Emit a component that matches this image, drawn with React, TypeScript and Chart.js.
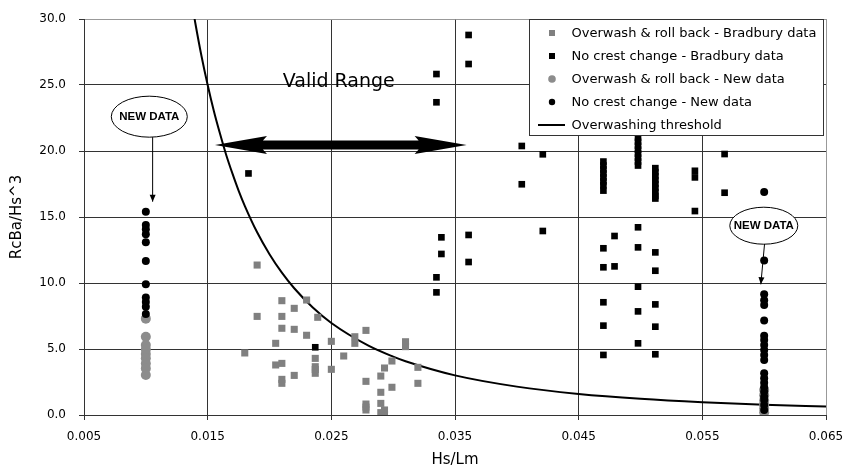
import React, { useEffect, useRef } from "react";
import { Chart, registerables } from "chart.js";

Chart.register(...registerables);

// ---- Axis ticks ----
const xTickValues = [0.005, 0.015, 0.025, 0.035, 0.045, 0.055, 0.065];
const yTickValues = [0, 5, 10, 15, 20, 25, 30];

// ---- Overwash & roll back - Bradbury data (grey squares) ----
const owBradburyX = [
  0.019, 0.021, 0.023, 0.022, 0.019, 0.021, 0.0239, 0.021, 0.022, 0.023, 0.0205, 0.025, 0.0269, 0.0269,
  0.0278, 0.031, 0.031, 0.018, 0.0237, 0.026, 0.0205, 0.021, 0.0237, 0.0237, 0.0237, 0.025, 0.022, 0.021,
  0.021, 0.0278, 0.029, 0.0293, 0.0299, 0.032, 0.032, 0.0299, 0.029, 0.0278, 0.0278, 0.0278, 0.029, 0.029,
  0.0293, 0.0293,
];
const owBradburyY = [
  11.36, 8.66, 8.71, 8.08, 7.47, 7.47, 7.4, 6.57, 6.49, 6.04, 5.43, 5.58, 5.93, 5.43,
  6.41, 5.55, 5.18, 4.7, 4.29, 4.47, 3.79, 3.91, 3.66, 3.45, 3.16, 3.46, 3.0, 2.7,
  2.4, 2.55, 2.95, 3.56, 4.09, 3.61, 2.4, 2.1, 1.72, 0.83, 0.6, 0.38, 0.88, 0.18,
  0.38, 0.05,
];

// ---- No crest change - Bradbury data (black squares) ----
const ncBradburyX = [
  0.0183, 0.0237, 0.0335, 0.0335, 0.0361, 0.0361, 0.0339, 0.0339, 0.0335, 0.0335, 0.0361, 0.0361,
  0.0404, 0.0421, 0.0404, 0.0421,
  0.047, 0.047, 0.047, 0.047, 0.047, 0.047, 0.047, 0.047,
  0.0498, 0.0498, 0.0498, 0.0498, 0.0498, 0.0498, 0.0498, 0.0498,
  0.0512, 0.0512, 0.0512, 0.0512, 0.0512, 0.0512, 0.0512, 0.0512, 0.0512,
  0.0544, 0.0544, 0.0544, 0.0568, 0.0568,
  0.0479, 0.0498, 0.047, 0.0498, 0.0512, 0.047, 0.0479, 0.0512, 0.0498, 0.047, 0.0512, 0.0498,
  0.047, 0.0512, 0.0498, 0.047, 0.0512,
];
const ncBradburyY = [
  18.3, 5.13, 25.83, 23.69, 28.79, 26.59, 13.46, 12.2, 10.43, 9.29, 13.64, 11.59,
  20.38, 19.75, 17.48, 13.94,
  19.2, 18.9, 18.6, 18.3, 18.0, 17.7, 17.4, 17.0,
  21.0, 20.7, 20.4, 20.1, 19.8, 19.5, 19.2, 18.9,
  18.7, 18.4, 18.1, 17.8, 17.5, 17.2, 16.9, 16.6, 16.4,
  18.5, 18.0, 15.45, 19.77, 16.84,
  13.56, 14.22, 12.63, 12.7, 12.32, 11.19, 11.26, 10.93, 9.72, 8.54, 8.38, 7.85,
  6.77, 6.69, 5.43, 4.55, 4.6,
];

// ---- Overwash & roll back - New data (grey circles) ----
const owNewX = [0.01, 0.01, 0.01, 0.01, 0.01, 0.01, 0.01, 0.01, 0.01, 0.06, 0.06, 0.06, 0.06, 0.06, 0.06];
const owNewY = [7.3, 5.93, 5.3, 4.97, 4.62, 4.29, 3.9, 3.53, 3.03, 1.9, 1.5, 1.1, 0.8, 0.5, 0.2];

// ---- No crest change - New data (black circles) ----
const ncNewX = [
  0.01, 0.01, 0.01, 0.01, 0.01, 0.01, 0.01, 0.01, 0.01, 0.01, 0.01,
  0.06, 0.06, 0.06, 0.06, 0.06, 0.06, 0.06, 0.06, 0.06, 0.06, 0.06, 0.06, 0.06, 0.06, 0.06, 0.06,
  0.06, 0.06, 0.06, 0.06, 0.06,
];
const ncNewY = [
  15.4, 14.4, 14.07, 13.7, 13.08, 11.67, 9.9, 8.9, 8.56, 8.2, 7.65,
  16.9, 11.7, 9.14, 8.7, 8.33, 7.15, 6.0, 5.68, 5.3, 4.92, 4.55, 4.17, 3.16, 2.78,
  2.45, 2.1, 1.77, 1.39, 1.14, 0.76, 0.38,
];

// ---- Overwashing threshold ----
const thresholdX = [
  0.0138, 0.014, 0.0145, 0.015, 0.0155, 0.016, 0.0165, 0.017, 0.0175, 0.018, 0.019, 0.02, 0.021, 0.022,
  0.0235, 0.025, 0.028, 0.03, 0.031, 0.035, 0.04, 0.045, 0.05, 0.055, 0.06, 0.065,
];
const thresholdY = [
  30.8, 29.7, 27.2, 25.0, 23.03, 21.3, 19.7, 18.3, 17.0, 15.85, 13.84, 12.18, 10.78, 9.6,
  8.14, 6.97, 5.25, 4.42, 4.07, 3.0, 2.15, 1.6, 1.23, 0.97, 0.78, 0.64,
];

const seriesNames = [
  "Overwash & roll back - Bradbury data",
  "No crest change - Bradbury data",
  "Overwash & roll back - New data",
  "No crest change - New data",
  "Overwashing threshold",
];

const FONT = "'DejaVu Sans', Verdana, sans-serif";

const pts = (xs: number[], ys: number[]) => xs.map((x, i) => ({ x, y: ys[i] }));

function drawArrowHead(ctx: CanvasRenderingContext2D, x1: number, y1: number, x2: number, y2: number, len: number, half: number) {
  const a = Math.atan2(y2 - y1, x2 - x1);
  ctx.beginPath();
  ctx.moveTo(x2, y2);
  ctx.lineTo(x2 - len * Math.cos(a) + half * Math.sin(a), y2 - len * Math.sin(a) - half * Math.cos(a));
  ctx.lineTo(x2 - len * Math.cos(a) - half * Math.sin(a), y2 - len * Math.sin(a) + half * Math.cos(a));
  ctx.closePath();
  ctx.fill();
}

const overlayPlugin = {
  id: "overlay",
  afterDatasetsDraw(chart: any) {
    const ctx: CanvasRenderingContext2D = chart.ctx;
    const xs = chart.scales.x;
    const ys = chart.scales.y;
    const area = chart.chartArea;
    const X = (v: number) => xs.getPixelForValue(v);
    const Y = (v: number) => ys.getPixelForValue(v);
    ctx.save();

    // Valid Range text
    ctx.fillStyle = "#000";
    ctx.font = `19px ${FONT}`;
    ctx.textAlign = "center";
    ctx.textBaseline = "middle";
    ctx.fillText("Valid Range", X(0.0256), Y(25.2));

    // Double arrow
    const ax1 = X(0.01559), ax2 = X(0.03594), ay = Y(20.45);
    const headLen = 52, headHalf = 9, shaftHalf = 4.5;
    ctx.beginPath();
    ctx.moveTo(ax1, ay);
    ctx.lineTo(ax1 + headLen, ay - headHalf);
    ctx.lineTo(ax1 + headLen - 4, ay - shaftHalf);
    ctx.lineTo(ax2 - headLen + 4, ay - shaftHalf);
    ctx.lineTo(ax2 - headLen, ay - headHalf);
    ctx.lineTo(ax2, ay);
    ctx.lineTo(ax2 - headLen, ay + headHalf);
    ctx.lineTo(ax2 - headLen + 4, ay + shaftHalf);
    ctx.lineTo(ax1 + headLen - 4, ay + shaftHalf);
    ctx.lineTo(ax1 + headLen, ay + headHalf);
    ctx.closePath();
    ctx.fill();

    // NEW DATA callouts
    const callouts = [
      { cx: 0.01028, cy: 22.6, rx: 38, ry: 20.5, fx: 0.01055, fy: 21.05, tx: 0.01055, ty: 16.16 },
      { cx: 0.05997, cy: 14.34, rx: 34, ry: 18.5, fx: 0.06003, fy: 12.95, tx: 0.05973, ty: 9.9 },
    ];
    for (const c of callouts) {
      const px = X(c.cx), py = Y(c.cy);
      ctx.beginPath();
      ctx.ellipse(px, py, c.rx, c.ry, 0, 0, Math.PI * 2);
      ctx.fillStyle = "#fff";
      ctx.fill();
      ctx.lineWidth = 1;
      ctx.strokeStyle = "#000";
      ctx.stroke();
      ctx.fillStyle = "#000";
      ctx.font = `bold 11.5px 'Liberation Sans', Arial, sans-serif`;
      ctx.fillText("NEW DATA", px, py + 0.5);
      const x1 = X(c.fx), y1 = Y(c.fy), x2 = X(c.tx), y2 = Y(c.ty);
      ctx.beginPath();
      ctx.moveTo(x1, y1);
      ctx.lineTo(x2, y2);
      ctx.stroke();
      drawArrowHead(ctx, x1, y1, x2, y2, 7, 3);
    }

    // Legend box
    const lw = 294, lh = 116;
    const lx = area.right - 296.5, ly = area.top + 0.5;
    ctx.fillStyle = "#fff";
    ctx.fillRect(lx, ly, lw, lh);
    ctx.strokeStyle = "#333";
    ctx.lineWidth = 1;
    ctx.strokeRect(lx, ly, lw, lh);
    ctx.font = `13px ${FONT}`;
    ctx.textAlign = "left";
    ctx.textBaseline = "middle";
    const mx = lx + 22.5;
    seriesNames.forEach((name, i) => {
      const ry = ly + 13.5 + i * 23;
      if (i === 0) { ctx.fillStyle = "#808080"; ctx.fillRect(mx - 3, ry - 3, 6, 6); }
      if (i === 1) { ctx.fillStyle = "#000"; ctx.fillRect(mx - 3, ry - 3, 6, 6); }
      if (i === 2) { ctx.fillStyle = "#8c8c8c"; ctx.beginPath(); ctx.arc(mx, ry, 3.8, 0, Math.PI * 2); ctx.fill(); }
      if (i === 3) { ctx.fillStyle = "#000"; ctx.beginPath(); ctx.arc(mx, ry, 3.2, 0, Math.PI * 2); ctx.fill(); }
      if (i === 4) { ctx.strokeStyle = "#000"; ctx.lineWidth = 2; ctx.beginPath(); ctx.moveTo(mx - 14, ry); ctx.lineTo(mx + 13, ry); ctx.stroke(); }
      ctx.fillStyle = "#000";
      ctx.fillText(name, lx + 42, ry + 0.5);
    });
    ctx.restore();
  },
};

export default function App() {
  const ref = useRef<HTMLCanvasElement>(null);
  useEffect(() => {
    const chart = new Chart(ref.current as HTMLCanvasElement, {
      type: "scatter",
      data: {
        datasets: [
          {
            label: seriesNames[0],
            data: pts(owBradburyX, owBradburyY),
            pointStyle: "rect",
            pointRadius: 5,
            backgroundColor: "#808080",
            borderWidth: 0,
            order: 4,
          },
          {
            label: seriesNames[1],
            data: pts(ncBradburyX, ncBradburyY),
            pointStyle: "rect",
            pointRadius: 4.7,
            backgroundColor: "#000",
            borderWidth: 0,
            order: 3,
          },
          {
            label: seriesNames[2],
            data: pts(owNewX, owNewY),
            pointStyle: "circle",
            pointRadius: 5,
            backgroundColor: "#8c8c8c",
            borderWidth: 0,
            order: 2,
          },
          {
            label: seriesNames[3],
            data: pts(ncNewX, ncNewY),
            pointStyle: "circle",
            pointRadius: 4,
            backgroundColor: "#000",
            borderWidth: 0,
            order: 1,
          },
          {
            label: seriesNames[4],
            data: pts(thresholdX, thresholdY),
            showLine: true,
            pointRadius: 0,
            borderColor: "#000",
            borderWidth: 2,
            cubicInterpolationMode: "monotone",
            order: 5,
          } as any,
        ],
      },
      options: {
        responsive: false,
        animation: false,
        events: [],
        layout: { padding: { top: 19, right: 19, left: 0, bottom: 0 } },
        plugins: { legend: { display: false }, tooltip: { enabled: false } },
        scales: {
          x: {
            type: "linear",
            min: 0.005,
            max: 0.065,
            afterBuildTicks: (s: any) => {
              s.ticks = xTickValues.map((v) => ({ value: v }));
            },
            afterFit: (s: any) => {
              s.height = 55;
              s.paddingLeft = 0;
              s.paddingRight = 0;
            },
            ticks: {
              autoSkip: false,
              maxRotation: 0,
              padding: 10,
              color: "#000",
              font: { family: FONT, size: 12 },
              callback: (v: any) => Number(v).toFixed(3),
            },
            grid: {
              color: (c: any) => (c.tick && c.tick.value === 0.065 ? "#999" : "#333"),
              lineWidth: 1,
              drawTicks: true,
              tickLength: 5,
              tickColor: "#333",
            },
            border: { display: true, color: "#333", width: 1 },
            title: {
              display: true,
              text: "Hs/Lm",
              color: "#000",
              font: { family: FONT, size: 15 },
              padding: { top: 0, bottom: 1 },
            },
          },
          y: {
            type: "linear",
            min: 0,
            max: 30,
            afterBuildTicks: (s: any) => {
              s.ticks = yTickValues.map((v) => ({ value: v }));
            },
            afterFit: (s: any) => {
              s.width = 84;
              s.paddingTop = 0;
              s.paddingBottom = 0;
            },
            ticks: {
              padding: 13,
              color: "#000",
              font: { family: FONT, size: 12 },
              callback: (v: any) => Number(v).toFixed(1),
            },
            grid: {
              color: (c: any) => (c.tick && c.tick.value === 30 ? "#999" : "#333"),
              lineWidth: 1,
              drawTicks: true,
              tickLength: 5,
              tickColor: "#333",
            },
            border: { display: true, color: "#333", width: 1 },
            title: {
              display: true,
              text: "RcBa/Hs^3",
              color: "#000",
              font: { family: FONT, size: 15 },
              padding: { top: 8, bottom: 0 },
            },
          },
        },
      },
      plugins: [overlayPlugin],
    } as any);
    return () => chart.destroy();
  }, []);
  return (
    <div style={{ position: "absolute", left: 0, top: 0, width: 845, height: 470, background: "#fff" }}>
      <canvas ref={ref} width={845} height={470} style={{ display: "block" }} />
    </div>
  );
}
